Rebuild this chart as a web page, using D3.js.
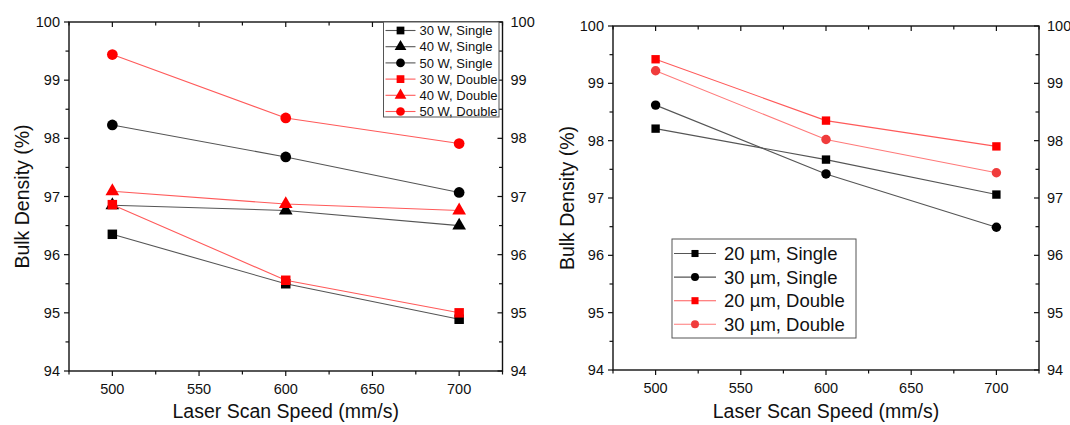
<!DOCTYPE html>
<html>
<head>
<meta charset="utf-8">
<script src="https://cdn.jsdelivr.net/npm/d3@7"></script>
<style>
  body { margin: 0; background: #fff; }
  text { font-family: Arial, "Liberation Sans", sans-serif; fill: #111; }
</style>
</head>
<body>
<script>
// x values (laser scan speed, mm/s)
var speeds = [500, 600, 700];
var xTicks = [500, 550, 600, 650, 700];
var yTicks = [94, 95, 96, 97, 98, 99, 100];

// left panel: laser power
var powerNames = ["30 W, Single", "40 W, Single", "50 W, Single",
                  "30 W, Double", "40 W, Double", "50 W, Double"];
var p30Single = [96.35, 95.50, 94.89];
var p40Single = [96.85, 96.76, 96.50];
var p50Single = [98.23, 97.68, 97.07];
var p30Double = [96.86, 95.56, 95.00];
var p40Double = [97.09, 96.87, 96.76];
var p50Double = [99.44, 98.35, 97.91];

// right panel: layer thickness
var layerNames = ["20 \u00b5m, Single", "30 \u00b5m, Single",
                  "20 \u00b5m, Double", "30 \u00b5m, Double"];
var l20Single = [98.21, 97.67, 97.06];
var l30Single = [98.62, 97.42, 96.49];
var l20Double = [99.42, 98.35, 97.90];
var l30Double = [99.22, 98.02, 97.44];

var svg = d3.select("body").append("svg")
  .attr("width", 1070).attr("height", 425);

function panel(cfg) {
  var x = d3.scaleLinear().domain([475, 725]).range([cfg.x0, cfg.x1]);
  var y = d3.scaleLinear().domain([94, 100]).range([cfg.y1, cfg.y0]);
  var g = svg.append("g");

  // series
  cfg.series.forEach(function(s) {
    var line = d3.line().x(function(d, i) { return x(speeds[i]); })
                        .y(function(d) { return y(d); });
    g.append("path").attr("d", line(s.values))
      .attr("fill", "none").attr("stroke", s.line).attr("stroke-width", 1.1);
    g.selectAll(null).data(s.values).enter().append("path")
      .attr("transform", function(d, i) { return "translate(" + x(speeds[i]) + "," + y(d) + ")"; })
      .attr("d", d3.symbol().type(s.shape).size(s.shape === d3.symbolTriangle ? cfg.msize * 0.9 : cfg.msize))
      .attr("fill", s.color);
  });

  // frame
  g.append("rect").attr("x", cfg.x0).attr("y", cfg.y0)
    .attr("width", cfg.x1 - cfg.x0).attr("height", cfg.y1 - cfg.y0)
    .attr("fill", "none").attr("stroke", "#111").attr("stroke-width", 1.4);

  // ticks (all pointing left / down, as in the original)
  var yMinor = d3.range(94, 100.01, 0.5);
  var xMinor = d3.range(475, 725.01, 25);
  yMinor.forEach(function(v) {
    var len = (v % 1 === 0) ? 5 : 3.5;
    [cfg.x0, cfg.x1].forEach(function(ax) {
      g.append("line").attr("x1", ax - len).attr("x2", ax)
        .attr("y1", y(v)).attr("y2", y(v)).attr("stroke", "#111").attr("stroke-width", 1.2);
    });
  });
  xMinor.forEach(function(v) {
    var len = (v % 50 === 0) ? 5 : 3.5;
    [cfg.y0, cfg.y1].forEach(function(ay) {
      g.append("line").attr("x1", x(v)).attr("x2", x(v))
        .attr("y1", ay).attr("y2", ay + len).attr("stroke", "#111").attr("stroke-width", 1.2);
    });
  });

  // tick labels
  g.selectAll(null).data(yTicks).enter().append("text")
    .attr("x", cfg.x0 - 9).attr("y", function(d) { return y(d) + 5; })
    .attr("text-anchor", "end").style("font-size", "14.5px").text(function(d) { return d; });
  g.selectAll(null).data(yTicks).enter().append("text")
    .attr("x", cfg.x1 + 8).attr("y", function(d) { return y(d) + 5; })
    .attr("text-anchor", "start").style("font-size", "14.5px").text(function(d) { return d; });
  g.selectAll(null).data(xTicks).enter().append("text")
    .attr("x", function(d) { return x(d); }).attr("y", cfg.y1 + 23)
    .attr("text-anchor", "middle").style("font-size", "14.5px").text(function(d) { return d; });

  // axis titles
  g.append("text").attr("x", (cfg.x0 + cfg.x1) / 2).attr("y", 418)
    .attr("text-anchor", "middle").style("font-size", "19.5px").text("Laser Scan Speed (mm/s)");
  g.append("text")
    .attr("transform", "translate(" + cfg.ylabX + "," + ((cfg.y0 + cfg.y1) / 2) + ") rotate(-90)")
    .attr("text-anchor", "middle").style("font-size", "19.5px").text("Bulk Density (%)");

  // legend
  var L = cfg.legend;
  g.append("rect").attr("x", L.x).attr("y", L.y).attr("width", L.w).attr("height", L.h)
    .attr("fill", "#fff").attr("stroke", "#555").attr("stroke-width", 1);
  cfg.series.forEach(function(s, i) {
    var cy = L.y + L.first + i * L.step;
    g.append("line").attr("x1", L.x + 2).attr("x2", L.x + 2 + L.len)
      .attr("y1", cy).attr("y2", cy).attr("stroke", s.line).attr("stroke-width", 1.1);
    g.append("path").attr("transform", "translate(" + (L.x + 2 + L.len / 2) + "," + cy + ")")
      .attr("d", d3.symbol().type(s.shape).size(L.msize)).attr("fill", s.color);
    g.append("text").attr("x", L.x + L.tx).attr("y", cy + L.fs * 0.36)
      .style("font-size", L.fs + "px").text(s.name);
  });
}

var blackLine = "#555", redLine = "#ff5a5a";

panel({
  x0: 69, x1: 502.5, y0: 22, y1: 371, ylabX: 29, msize: 90,
  series: [
    { name: powerNames[0], values: p30Single, shape: d3.symbolSquare, color: "#000", line: blackLine },
    { name: powerNames[1], values: p40Single, shape: d3.symbolTriangle, color: "#000", line: blackLine },
    { name: powerNames[2], values: p50Single, shape: d3.symbolCircle, color: "#000", line: blackLine },
    { name: powerNames[3], values: p30Double, shape: d3.symbolSquare, color: "#ff0000", line: redLine },
    { name: powerNames[4], values: p40Double, shape: d3.symbolTriangle, color: "#ff0000", line: redLine },
    { name: powerNames[5], values: p50Double, shape: d3.symbolCircle, color: "#ff0000", line: redLine }
  ],
  legend: { x: 383.5, y: 22, w: 115.5, h: 95, first: 8.5, step: 16.2, len: 30, tx: 36, fs: 13, msize: 60 }
});

panel({
  x0: 613, x1: 1039, y0: 26, y1: 370, ylabX: 574, msize: 70,
  series: [
    { name: layerNames[0], values: l20Single, shape: d3.symbolSquare, color: "#000", line: blackLine },
    { name: layerNames[1], values: l30Single, shape: d3.symbolCircle, color: "#000", line: blackLine },
    { name: layerNames[2], values: l20Double, shape: d3.symbolSquare, color: "#ff0000", line: redLine },
    { name: layerNames[3], values: l30Double, shape: d3.symbolCircle, color: "#f03c3c", line: "#ff7a7a" }
  ],
  legend: { x: 672, y: 239, w: 184, h: 99, first: 14.5, step: 23.6, len: 42, tx: 52, fs: 18.5, msize: 50 }
});
</script>
</body>
</html>
